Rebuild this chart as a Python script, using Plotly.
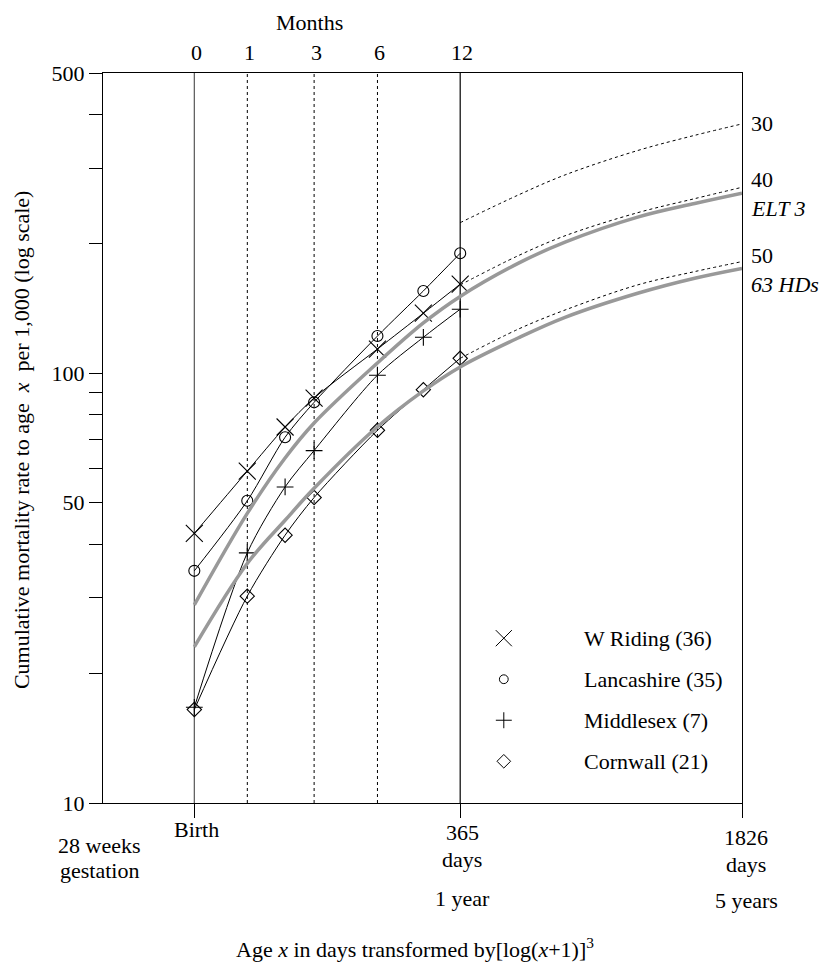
import numpy as np
import plotly.graph_objects as go

# ---------------- data ----------------
# ages (days) at which the county series are observed: birth, 1, 2, 3, 6, 9, 12 months
age_days = [0, 30.4, 60.9, 91.3, 182.6, 273.9, 365]
w_riding = [42.4, 59.2, 75.0, 87.6, 113.9, 138.0, 161.2]
lancashire = [34.7, 50.5, 71.0, 85.6, 122.1, 155.5, 190.3]
middlesex = [16.7, 38.2, 54.4, 66.1, 99.0, 121.3, 141.0]
cornwall = [16.5, 30.3, 42.0, 51.4, 73.7, 91.6, 108.4]

# model curves (birth to 5 years)
model_days = [0, 30.4, 60.9, 91.3, 182.6, 273.9, 365, 547, 730, 1095, 1461, 1826]
elt3 = [28.9, 47.2, 63.5, 76.6, 105.7, 131.0, 151.0, 180.5, 202.0, 231.0, 248.5, 262.6]
hds63 = [23.1, 36.1, 45.5, 54.0, 75.1, 91.0, 103.5, 121.0, 135.0, 153.6, 166.5, 175.5]

# dotted extension levels (1 to 5 years)
ext_days = [365, 547, 730, 1095, 1461, 1826]
level30 = [224.2, 260.2, 289.6, 330.0, 358.0, 380.6]
level40 = [160.6, 188.0, 209.0, 236.5, 255.0, 271.0]
level50 = [108.4, 126.8, 140.4, 160.6, 172.5, 182.0]

series_names = ["W Riding (36)", "Lancashire (35)", "Middlesex (7)", "Cornwall (21)"]
month_ticks = [0, 1, 3, 6, 12]
month_days_per = 30.44
solid_month_lines = [0, 12]
dotted_month_lines = [1, 3, 6]
bottom_ticks_days = [0, 365, 1826]
y_major = [10, 50, 100, 500]
y_minor = [20, 30, 40, 60, 70, 80, 90, 200, 300, 400]


def tr(d):
    """x transform: [log(x+1)]^3"""
    return np.log10(np.asarray(d, dtype=float) + 1.0) ** 3


def mdays(m):
    return 365.0 if m == 12 else m * month_days_per


FONT = "Liberation Serif, Times New Roman, serif"
BLACK = "#000000"
GRAY = "#999999"

X_LEFT = -5.786
X_RIGHT = float(tr(1826))

# page body adds an 8px margin; figure is sized so the plot area lands where the reference has it
OFF = 8
PLOT_L, PLOT_R, PLOT_T, PLOT_B = 103, 742.3, 73.2, 802.7
W, H = 830 - OFF, 977 - OFF
PW, PH = PLOT_R - PLOT_L, PLOT_B - PLOT_T

fig = go.Figure()

styles = [
    dict(symbol="x-thin", size=17),
    dict(symbol="circle-open", size=11),
    dict(symbol="cross-thin", size=12),
    dict(symbol="diamond-open", size=11),
]
for name, vals, st in zip(series_names, [w_riding, lancashire, middlesex, cornwall], styles):
    fig.add_trace(go.Scatter(
        x=tr(age_days), y=vals, mode="lines+markers", name=name,
        line=dict(color=BLACK, width=1, shape="spline", smoothing=0.8),
        marker=dict(symbol=st["symbol"], size=st["size"], color=BLACK,
                    line=dict(color=BLACK, width=1.1)),
        showlegend=False, hoverinfo="skip"))

for vals in [level30, level40, level50]:
    fig.add_trace(go.Scatter(
        x=tr(ext_days), y=vals, mode="lines",
        line=dict(color=BLACK, width=1, dash="3px,3px", shape="spline"),
        showlegend=False, hoverinfo="skip"))

for vals in [elt3, hds63]:
    fig.add_trace(go.Scatter(
        x=tr(model_days), y=vals, mode="lines",
        line=dict(color=GRAY, width=3.5, shape="spline", smoothing=1.0),
        showlegend=False, hoverinfo="skip"))

# legend glyphs on an overlay axis (0..1 within the plot area)
leg_pix_y = [638, 679, 720, 761]
leg_y = [(PLOT_B - p) / PH for p in leg_pix_y]
leg_x_marker = (504 - PLOT_L) / PW
leg_x_text = (582 - PLOT_L) / PW
for st, yy in zip(styles, leg_y):
    fig.add_trace(go.Scatter(
        x=[leg_x_marker], y=[yy], xaxis="x3", yaxis="y3", mode="markers",
        marker=dict(symbol=st["symbol"], size=st["size"] * (0.8 if "circle" in st["symbol"] else 0.95),
                    color=BLACK, line=dict(color=BLACK, width=1)),
        showlegend=False, hoverinfo="skip"))

shapes = []
for m in solid_month_lines:
    shapes.append(dict(type="line", xref="x", yref="paper", x0=float(tr(mdays(m))),
                       x1=float(tr(mdays(m))), y0=0, y1=1, layer="below",
                       line=dict(color="#555555" if m == 0 else BLACK, width=1.2)))
for m in dotted_month_lines:
    shapes.append(dict(type="line", xref="x", yref="paper", x0=float(tr(mdays(m))),
                       x1=float(tr(mdays(m))), y0=0, y1=1, layer="below",
                       line=dict(color=BLACK, width=1, dash="3px,3px")))

ann = []
f22 = dict(family=FONT, size=22, color=BLACK)
for m in month_ticks:
    ann.append(dict(x=float(tr(mdays(m))), xref="x", y=1, yref="paper", text=str(m),
                    showarrow=False, font=f22, xanchor="center", yanchor="middle",
                    xshift=2, yshift=21))
ann.append(dict(x=(310 - PLOT_L) / PW, xref="paper", y=1, yref="paper", text="Months",
                showarrow=False, font=f22, xanchor="center", yanchor="middle", yshift=51))


def bottom(xval, xref, text, ypix, xshift=0):
    ann.append(dict(x=xval, xref=xref, y=0, yref="paper", text=text, showarrow=False,
                    font=f22, xanchor="center", yanchor="middle",
                    yshift=-(ypix - PLOT_B), xshift=xshift))


bottom(0, "paper", "28 weeks", 845, -4)
bottom(0, "paper", "gestation", 870, -4)
bottom(float(tr(0)), "x", "Birth", 829, 2)
bottom(float(tr(365)), "x", "365", 832, 2)
bottom(float(tr(365)), "x", "days", 859, 2)
bottom(float(tr(365)), "x", "1 year", 898, 2)
bottom(float(tr(1826)), "x", "1826", 837, 4)
bottom(float(tr(1826)), "x", "days", 864, 4)
bottom(float(tr(1826)), "x", "5 years", 900, 4)

ann.append(dict(x=(415 - PLOT_L) / PW, xref="paper", y=0, yref="paper",
                text="Age <i>x</i> in days transformed by[log(<i>x</i>+1)]<sup>3</sup>",
                showarrow=False, font=f22, xanchor="center", yanchor="middle",
                yshift=-(948 - PLOT_B)))

ann.append(dict(x=(21 - PLOT_L) / PW, xref="paper", y=(PLOT_B - 440) / PH, yref="paper",
                text="Cumulative mortality rate to age&nbsp;&nbsp;<i>x</i>&nbsp;&nbsp;per 1,000 (log scale)",
                showarrow=False, font=f22, textangle=-90, xanchor="center", yanchor="middle"))

right_labels = [("30", 123.5, False), ("40", 180, False), ("ELT 3", 208.7, True),
                ("50", 255.7, False), ("63 HDs", 284.5, True)]
for txt, ypix, it in right_labels:
    ann.append(dict(x=1, xref="paper", y=1, yref="paper",
                    text=f"<i>{txt}</i>" if it else txt, showarrow=False, font=f22,
                    xanchor="left", yanchor="middle", xshift=7, yshift=-(ypix - PLOT_T)))

for name, yy in zip(series_names, leg_y):
    ann.append(dict(x=leg_x_text, xref="paper", y=yy, yref="paper", text=name,
                    showarrow=False, font=f22, xanchor="left", yanchor="middle"))

fig.update_layout(
    width=W, height=H,
    margin=dict(l=PLOT_L - OFF, r=W - (PLOT_R - OFF), t=PLOT_T - OFF, b=H - (PLOT_B - OFF), pad=0),
    paper_bgcolor="white", plot_bgcolor="white",
    font=dict(family=FONT, size=22, color=BLACK),
    showlegend=False,
    xaxis=dict(range=[X_LEFT, X_RIGHT], showgrid=False, zeroline=False,
               showline=True, linecolor=BLACK, linewidth=1.2, mirror=True,
               ticks="outside", ticklen=14, tickwidth=1, tickcolor=BLACK,
               tickvals=[float(v) for v in tr(bottom_ticks_days)], showticklabels=False),
    yaxis=dict(type="log", range=[1, np.log10(500)], showgrid=False, zeroline=False,
               showline=True, linecolor=BLACK, linewidth=1.2, mirror=True,
               ticks="outside", ticklen=13, tickwidth=1, tickcolor=BLACK,
               tickvals=y_major, ticktext=[str(v) for v in y_major],
               minor=dict(tickmode="array", tickvals=y_minor, ticks="outside", ticklen=13,
                          tickwidth=1, tickcolor=BLACK, showgrid=False),
               tickfont=dict(family=FONT, size=22, color=BLACK)),
    xaxis3=dict(overlaying="x", range=[0, 1], visible=False, fixedrange=True),
    yaxis3=dict(overlaying="y", range=[0, 1], visible=False, fixedrange=True),
    shapes=shapes, annotations=ann,
)

fig.write_html("out.html")
